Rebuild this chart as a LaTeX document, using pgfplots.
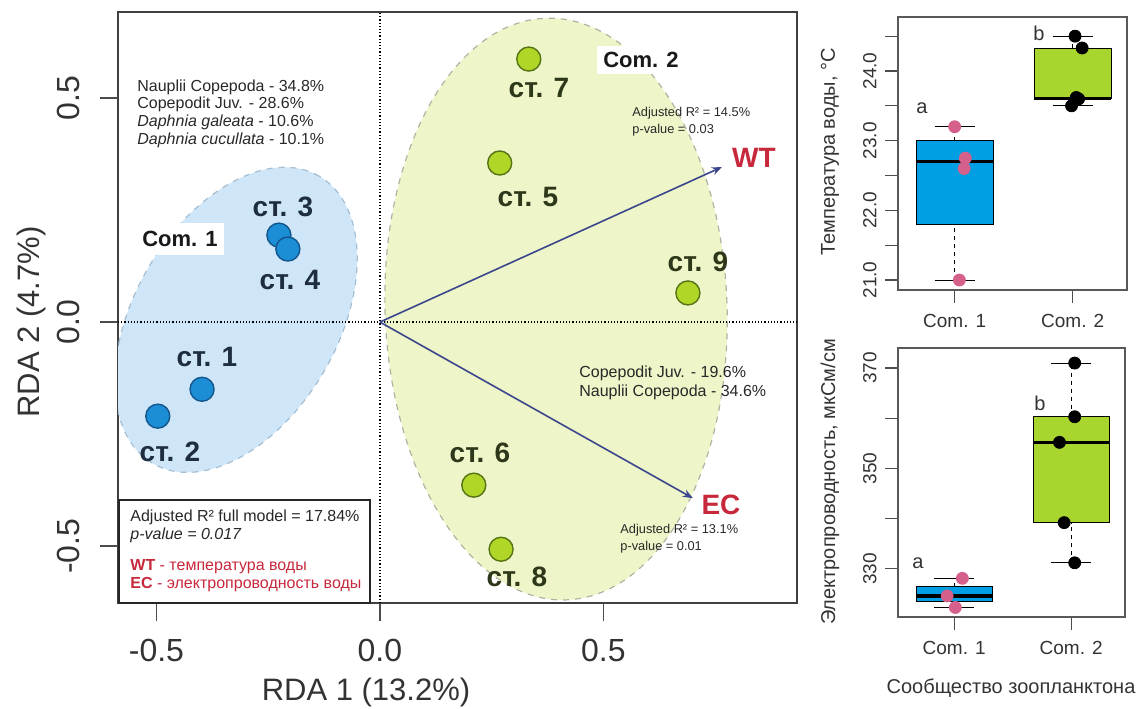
\documentclass[border=0pt]{standalone}
\usepackage{fontspec}
\setmainfont{Liberation Sans}
\usepackage{pgfplots}
\pgfplotsset{compat=1.18}
\usetikzlibrary{arrows.meta}

\definecolor{ellblue}{RGB}{206,230,247}
\definecolor{ellblueb}{RGB}{165,190,210}
\definecolor{ellgreen}{RGB}{238,245,200}
\definecolor{ellgreenb}{RGB}{175,180,160}
\definecolor{ptblue}{RGB}{28,142,214}
\definecolor{ptblueb}{RGB}{20,85,140}
\definecolor{ptgreen}{RGB}{176,214,40}
\definecolor{ptgreenb}{RGB}{85,115,20}
\definecolor{arrowc}{RGB}{60,70,140}
\definecolor{redlab}{RGB}{200,40,60}
\definecolor{boxblue}{RGB}{0,158,226}
\definecolor{boxgreen}{RGB}{168,214,46}
\definecolor{pinkpt}{RGB}{214,96,140}
\definecolor{labblue}{RGB}{30,45,65}
\definecolor{labgreen}{RGB}{45,55,25}
\definecolor{txt}{RGB}{40,40,40}

\pgfplotsset{
  rbox/.style={
    scale only axis, axis line style={draw=black!65, line width=0.7pt},
    tick pos=left, tick align=outside, major tick length=6.5pt, minor tick length=6.5pt,
    tick style={black!70, line width=0.6pt},
    xmin=0.52, xmax=2.46, xtick={1,2}, xticklabels={Com. 1, Com. 2},
    ticklabel style={font=\fontsize{9.5}{10}\selectfont, text=black!80},
    xticklabel style={inner sep=5.5pt},
    yticklabel style={rotate=90, anchor=south, inner sep=4pt},
    /pgf/number format/assume math mode=true,
  },
  whisk/.style={black, line width=0.5pt, dash pattern=on 2pt off 2pt},
  cap/.style={black, line width=0.5pt},
  med/.style={black, line width=1.6pt},
}

\begin{document}
\begin{tikzpicture}
\useasboundingbox (0,0) rectangle (573pt,354pt);

% ---------------- main RDA plot ----------------
\begin{axis}[
  at={(59pt,52.5pt)}, anchor=south west,
  scale only axis, width=339.5pt, height=295.5pt,
  xmin=-0.586, xmax=0.933, ymin=-0.627, ymax=0.692,
  axis line style={draw=black!75, line width=1pt},
  tick pos=left, tick align=outside, major tick length=9pt,
  tick style={black!70, line width=0.6pt},
  xtick={-0.5,0,0.5}, xticklabels={-0.5,0.0,0.5},
  ytick={-0.5,0,0.5}, yticklabels={-0.5,0.0,0.5},
  ticklabel style={font=\fontsize{16}{16}\selectfont, text=black!80},
  xticklabel style={inner sep=9pt},
  yticklabel style={rotate=90, anchor=south, inner sep=10pt},
  /pgf/number format/assume math mode=true,
  clip=true,
]
\draw[fill=ellblue, draw=ellblueb, dashed, line width=0.6pt]
  (axis cs:-0.322,0.005) ellipse [x radius=83pt, y radius=51pt, rotate=60];
\draw[fill=ellgreen, draw=ellgreenb, dashed, line width=0.6pt]
  (axis cs:0.394,0.029) ellipse [x radius=85.5pt, y radius=145.5pt, rotate=2];

\addplot[densely dotted, black, line width=0.6pt] coordinates {(-0.586,0) (0.933,0)};
\addplot[densely dotted, black, line width=0.6pt] coordinates {(0,-0.627) (0,0.692)};

\addplot[arrowc, line width=0.8pt, -{Stealth[length=5pt,width=4pt]}] coordinates {(0,0) (0.765,0.346)};
\addplot[arrowc, line width=0.8pt, -{Stealth[length=5pt,width=4pt]}] coordinates {(0,0) (0.700,-0.393)};

% Com. 1 stations (st. 1-4)
\addplot[only marks, mark=*, mark size=6pt, mark options={fill=ptblue, draw=ptblueb, line width=0.7pt}]
  coordinates {(-0.398,-0.150) (-0.497,-0.210) (-0.226,0.194) (-0.206,0.163)};
% Com. 2 stations (st. 5-9)
\addplot[only marks, mark=*, mark size=6pt, mark options={fill=ptgreen, draw=ptgreenb, line width=0.7pt}]
  coordinates {(0.268,0.355) (0.210,-0.364) (0.333,0.587) (0.271,-0.507) (0.689,0.065)};
\end{axis}

% ---------------- boxplot: temperature ----------------
\begin{axis}[rbox, at={(449pt,209pt)}, anchor=south west, width=114.5pt, height=136.5pt,
  ymin=20.857, ymax=24.775, ytick={21,22,23,24}, yticklabels={21.0,22.0,23.0,24.0},
  minor ytick={21.5,22.5,23.5,24.5}]
% Com. 1: 21.0 / 21.8 / 22.7 / 23.0 / 23.2
\addplot[whisk] coordinates {(1,21.0) (1,21.8)};
\addplot[whisk] coordinates {(1,23.0) (1,23.2)};
\addplot[cap] coordinates {(0.83,21.0) (1.17,21.0)};
\addplot[cap] coordinates {(0.83,23.2) (1.17,23.2)};
\addplot[draw=black, fill=boxblue, line width=0.5pt] coordinates {(0.675,21.8) (1.325,21.8) (1.325,23.0) (0.675,23.0)} -- cycle;
\addplot[med] coordinates {(0.675,22.7) (1.325,22.7)};
% Com. 2: 23.5 / 23.6 / 23.61 / 24.33 / 24.5
\addplot[whisk] coordinates {(2,23.5) (2,23.6)};
\addplot[whisk] coordinates {(2,24.33) (2,24.5)};
\addplot[cap] coordinates {(1.83,23.5) (2.17,23.5)};
\addplot[cap] coordinates {(1.83,24.5) (2.17,24.5)};
\addplot[draw=black, fill=boxgreen, line width=0.5pt] coordinates {(1.675,23.6) (2.325,23.6) (2.325,24.33) (1.675,24.33)} -- cycle;
\addplot[med] coordinates {(1.675,23.61) (2.325,23.61)};
\addplot[only marks, mark=*, mark size=3pt, pinkpt] coordinates {(1.0,23.2) (1.09,22.75) (1.08,22.6) (1.04,21.0)};
\addplot[only marks, mark=*, mark size=3pt, black] coordinates {(2.02,24.5) (2.08,24.33) (2.03,23.62) (2.05,23.6) (1.99,23.5)};
\end{axis}

% ---------------- boxplot: conductivity ----------------
\begin{axis}[rbox, at={(449pt,45.5pt)}, anchor=south west, width=113.5pt, height=134.5pt,
  ymin=320.4, ymax=374, ytick={330,350,370}, yticklabels={330,350,370},
  minor ytick={340,360}]
% Com. 1: 322.3 / 323.4 / 324.6 / 326.4 / 328.1
\addplot[whisk] coordinates {(1,322.3) (1,323.4)};
\addplot[whisk] coordinates {(1,326.4) (1,328.1)};
\addplot[cap] coordinates {(0.83,322.3) (1.17,322.3)};
\addplot[cap] coordinates {(0.83,328.1) (1.17,328.1)};
\addplot[draw=black, fill=boxblue, line width=0.5pt] coordinates {(0.675,323.4) (1.325,323.4) (1.325,326.4) (0.675,326.4)} -- cycle;
\addplot[med] coordinates {(0.675,324.6) (1.325,324.6)};
% Com. 2: 331.2 / 339.2 / 355.2 / 360.3 / 371.0
\addplot[whisk] coordinates {(2,331.2) (2,339.2)};
\addplot[whisk] coordinates {(2,360.3) (2,371.0)};
\addplot[cap] coordinates {(1.83,331.2) (2.17,331.2)};
\addplot[cap] coordinates {(1.83,371.0) (2.17,371.0)};
\addplot[draw=black, fill=boxgreen, line width=0.5pt] coordinates {(1.675,339.2) (2.325,339.2) (2.325,360.3) (1.675,360.3)} -- cycle;
\addplot[med] coordinates {(1.675,355.2) (2.325,355.2)};
\addplot[only marks, mark=*, mark size=3pt, pinkpt] coordinates {(1.07,328.1) (0.94,324.6) (1.01,322.3)};
\addplot[only marks, mark=*, mark size=3pt, black] coordinates {(2.03,371.0) (2.03,360.3) (1.90,355.2) (1.94,339.2) (2.03,331.2)};
\end{axis}

% ---------------- texts (pixel coordinates, y down) ----------------
\begin{scope}[x=0.5pt, y=-0.5pt, shift={(0pt,354pt)}]
\tikzset{sm/.style={font=\fontsize{8}{9}\selectfont, text=txt, anchor=west, inner sep=0pt},
         xs/.style={font=\fontsize{6.4}{7}\selectfont, text=txt, anchor=west, inner sep=0pt},
         st/.style={font=\fontsize{14}{14}\selectfont\bfseries, inner sep=0pt}}
\node[sm] at (137,87) {Nauplii Copepoda - 34.8\%};
\node[sm] at (137,104) {Copepodit Juv. - 28.6\%};
\node[sm] at (137,122) {\textit{Daphnia galeata} - 10.6\%};
\node[sm] at (137,140) {\textit{Daphnia cucullata} - 10.1\%};

\node[font=\fontsize{11}{11}\selectfont\bfseries, text=black!90, fill=white, inner xsep=3pt, inner ysep=4pt] at (180,239) {Com. 1};
\node[font=\fontsize{11}{11}\selectfont\bfseries, text=black!90, fill=white, inner xsep=3pt, inner ysep=3pt] at (641,60) {Com. 2};

\node[xs] at (632,113) {Adjusted R² = 14.5\%};
\node[xs] at (632,130) {p-value = 0.03};
\node[sm] at (579,373) {Copepodit Juv. - 19.6\%};
\node[sm] at (579,392) {Nauplii Copepoda - 34.6\%};
\node[xs] at (620,530) {Adjusted R² = 13.1\%};
\node[xs] at (620,547) {p-value = 0.01};

\node[font=\fontsize{14}{14}\selectfont\bfseries, text=redlab, inner sep=0pt] at (754,158) {WT};
\node[font=\fontsize{14}{14}\selectfont\bfseries, text=redlab, inner sep=0pt] at (721,505) {EC};

\node[st, text=labblue] at (283,207) {ст. 3};
\node[st, text=labblue] at (290,280) {ст. 4};
\node[st, text=labblue] at (207,357) {ст. 1};
\node[st, text=labblue] at (170,452) {ст. 2};
\node[st, text=labgreen] at (539,88) {ст. 7};
\node[st, text=labgreen] at (528,197) {ст. 5};
\node[st, text=labgreen] at (698,262) {ст. 9};
\node[st, text=labgreen] at (480,453) {ст. 6};
\node[st, text=labgreen] at (517,577) {ст. 8};

\draw[black!85, line width=0.6pt, fill=white] (119,500) rectangle (370,603);
\node[sm] at (130,517) {Adjusted R² full model = 17.84\%};
\node[sm] at (130,535) {\textit{p-value = 0.017}};
\node[sm, text=redlab] at (130,567) {\textbf{WT} - температура воды};
\node[sm, text=redlab] at (130,585) {\textbf{EC} - электропроводность воды};

\node[font=\fontsize{15.5}{16}\selectfont, text=black!80] at (366,692) {RDA 1 (13.2\%)};
\node[font=\fontsize{15.5}{16}\selectfont, text=black!80, rotate=90] at (31,322) {RDA 2 (4.7\%)};

\node[font=\fontsize{10}{10}\selectfont, text=black!80, rotate=90] at (830,152) {Температура воды, °C};
\node[font=\fontsize{10}{10}\selectfont, text=black!80, rotate=90] at (830,482) {Электропроводность, мкСм/см};
\node[font=\fontsize{10}{10}\selectfont, text=black!80] at (1011,688) {Сообщество зоопланктона};

\node[font=\fontsize{10}{10}\selectfont, text=black!80] at (922,108) {a};
\node[font=\fontsize{10}{10}\selectfont, text=black!80] at (1039,33) {b};
\node[font=\fontsize{10}{10}\selectfont, text=black!80] at (918,563) {a};
\node[font=\fontsize{10}{10}\selectfont, text=black!80] at (1040,403) {b};
\end{scope}
\end{tikzpicture}
\end{document}
